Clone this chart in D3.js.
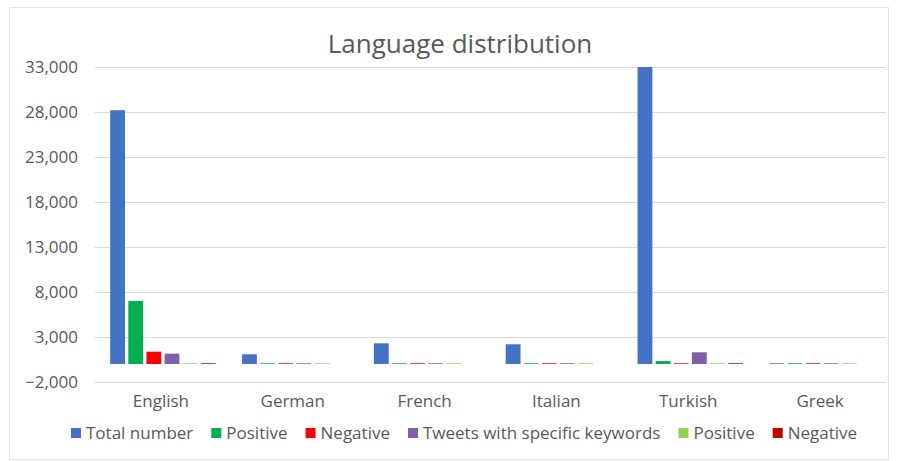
<!DOCTYPE html>
<html>
<head>
<meta charset="utf-8">
<script src="https://cdn.jsdelivr.net/npm/d3@7"></script>
<style>
  body { margin: 0; background: #fff; }
  text { font-family: "Open Sans", Lato, sans-serif; fill: #595959; }
</style>
</head>
<body>
<svg id="chart" width="897" height="461"></svg>
<script>
// data
var languages = ["English", "German", "French", "Italian", "Turkish", "Greek"];
var seriesNames = ["Total number", "Positive", "Negative", "Tweets with specific keywords", "Positive", "Negative"];
var seriesColors = ["#4472c4", "#00b050", "#ff0000", "#7f5fa6", "#92d050", "#c00000"];
var totalNumber = [28200, 1080, 2300, 2190, 33000, 80];
var positive    = [7000, 80, 80, 80, 330, 80];
var negative    = [1370, 80, 80, 80, 80, 80];
var keywords    = [1150, 80, 80, 80, 1300, 80];
var kwPositive  = [80, 80, 80, 80, 80, 80];
var kwNegative  = [80, 0, 0, 0, 80, 0];
var yTicks = [-2000, 3000, 8000, 13000, 18000, 23000, 28000, 33000];

var series = [totalNumber, positive, negative, keywords, kwPositive, kwNegative];

var svg = d3.select("#chart");
var plotLeft = 95, plotRight = 886, plotTop = 67, plotBottom = 382;

// faint chart border
svg.append("rect")
  .attr("x", 9.5).attr("y", 7.5)
  .attr("width", 879).attr("height", 452)
  .attr("fill", "none")
  .attr("stroke", "#e4e4e4");

var x = d3.scaleBand().domain(languages).range([plotLeft, plotRight]).paddingInner(0.2).paddingOuter(0.1);
var xInner = d3.scaleBand().domain(d3.range(series.length)).range([0, x.bandwidth()]).paddingInner(0.18);
var y = d3.scaleLinear().domain([-2000, 33000]).range([plotBottom, plotTop]);

// gridlines
svg.append("g").selectAll("line")
  .data(yTicks)
  .enter().append("line")
  .attr("x1", plotLeft).attr("x2", plotRight)
  .attr("y1", function(d){ return Math.round(y(d)) + 0.5 })
  .attr("y2", function(d){ return Math.round(y(d)) + 0.5 })
  .attr("stroke", "#d9d9d9")
  .attr("stroke-width", 1);

// y labels
var yAxis = d3.axisLeft(y).tickValues(yTicks).tickSize(0).tickPadding(0).tickFormat(d3.format(","));
var ya = svg.append("g").attr("transform", "translate(" + (plotLeft - 17) + ",0)").call(yAxis);
ya.select(".domain").remove();
ya.selectAll("text").style("font-size", "17px").attr("fill", "#595959").attr("font-family", null);

// bars
var groups = svg.append("g").selectAll("g")
  .data(languages)
  .enter().append("g")
  .attr("transform", function(d){ return "translate(" + x(d) + ",0)" });

groups.selectAll("rect")
  .data(function(d, i){ return series.map(function(s, k){ return { k: k, v: s[i] } }) })
  .enter().append("rect")
  .attr("x", function(d){ return xInner(d.k) + 2 })
  .attr("width", xInner.bandwidth())
  .attr("y", function(d){ return y(Math.max(0, d.v)) })
  .attr("height", function(d){ return Math.abs(y(d.v) - y(0)) })
  .attr("fill", function(d){ return seriesColors[d.k] });

// x labels
var xAxis = d3.axisBottom(x).tickSize(0).tickPadding(0);
var xa = svg.append("g").attr("transform", "translate(0," + (plotBottom + 13) + ")").call(xAxis);
xa.select(".domain").remove();
xa.selectAll("text").style("font-size", "17px").attr("fill", "#595959").attr("font-family", null);

// title
svg.append("text")
  .attr("x", 460).attr("y", 53)
  .attr("text-anchor", "middle")
  .style("font-size", "26px")
  .text("Language distribution");

// legend
var legend = svg.append("g").attr("transform", "translate(0,433)");
var lx = 71;
seriesNames.forEach(function(name, i){
  var g = legend.append("g").attr("transform", "translate(" + lx + ",0)");
  g.append("rect").attr("x", 0).attr("y", -5).attr("width", 10).attr("height", 10).attr("fill", seriesColors[i]);
  var t = g.append("text").attr("x", 15).attr("y", 6).style("font-size", "17px").text(name);
  lx += 15 + t.node().getComputedTextLength() + 18;
});
</script>
</body>
</html>
